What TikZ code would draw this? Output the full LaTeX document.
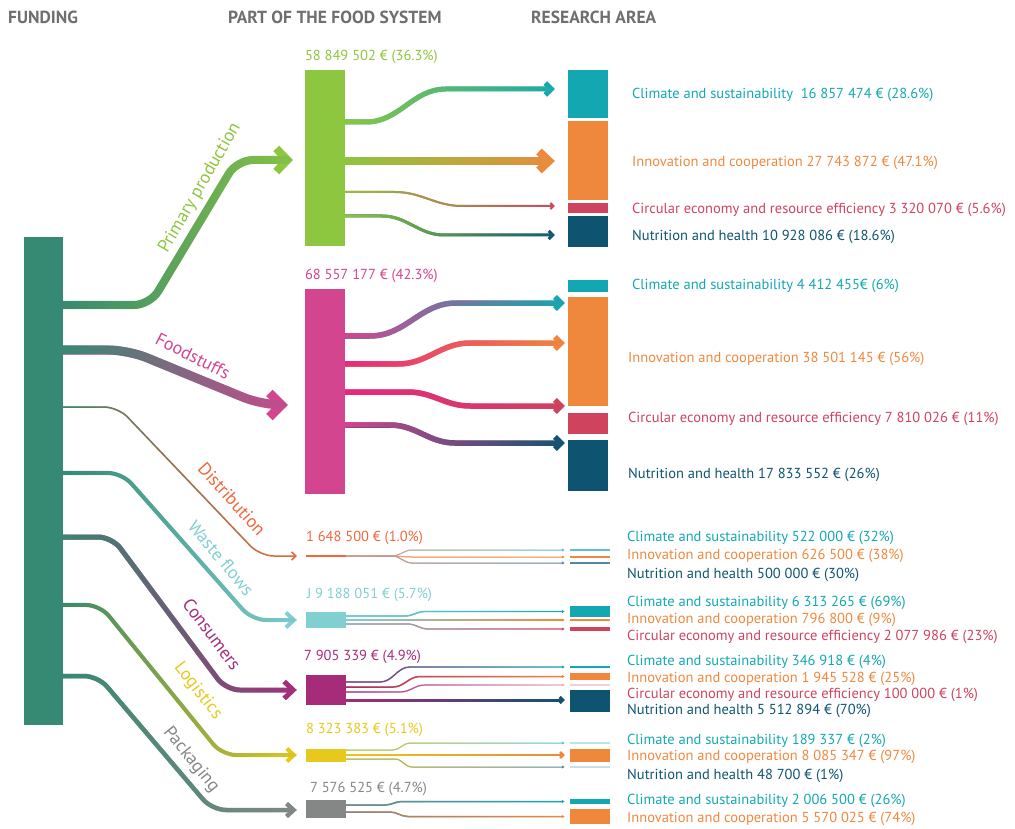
\documentclass[tikz,border=0pt]{standalone}
\usepackage{fontspec}
\setmainfont{PT Sans}
\usetikzlibrary{arrows.meta,positioning,fadings}

\definecolor{funding}{RGB}{54,137,115}
\definecolor{primgreen}{RGB}{141,198,63}
\definecolor{foodpink}{RGB}{212,69,143}
\definecolor{hotpink}{RGB}{232,40,128}
\definecolor{distorange}{RGB}{240,103,58}
\definecolor{wastecyan}{RGB}{128,207,209}
\definecolor{conspurple}{RGB}{166,44,122}
\definecolor{logyellow}{RGB}{230,201,28}
\definecolor{packgrey}{RGB}{132,135,134}
\definecolor{climteal}{RGB}{19,168,177}
\definecolor{innorange}{RGB}{239,136,61}
\definecolor{circred}{RGB}{207,67,95}
\definecolor{nutblue}{RGB}{14,84,112}
\definecolor{headgrey}{RGB}{109,110,113}

\tikzfading[name=flowfade, left color=transparent!0, right color=transparent!100]

\tikzset{
    %Define style for bars
    block/.style={
           rectangle,
           draw=none,
           inner sep=0pt,
           minimum width=40pt},
    % Define styles for texts
    header/.style={
           anchor=west,
           inner sep=0pt,
           text=headgrey,
           font=\fontsize{17.5}{19}\selectfont\bfseries},
    amount/.style={
           inner sep=0pt,
           font=\fontsize{14.5}{16}\selectfont},
    arealbl/.style={
           anchor=west,
           inner sep=0pt,
           font=\fontsize{14.5}{16}\selectfont},
    branchlbl/.style={
           inner sep=0pt,
           font=\fontsize{18}{20}\selectfont},
    % Define arrow styles
    chevron/.style 2 args={
           -{Straight Barb[length=#1,width=#2]}},
    smalltip/.style={
           -{Latex[length=3pt,width=3.5pt]},
           shorten >=5pt},
    sbend/.style={out=0,in=180}
}

% gradient band: width, start colour, end colour, tip, first point, rest of path
\newcommand{\sankeyflow}[6]{%
  \draw[#3,line width=#1,#4] (#5) #6;
  \draw[#2,line width=#1,#4,-,path fading=flowfade] ([yshift=3pt]#5) (#5) #6;}

\begin{document}
\begin{tikzpicture}[x=1pt,y=-1pt]
  \useasboundingbox (0,0) rectangle (1015,829);

  \node[header] (fundhead) at (8,17) {FUNDING};
  \node[header] (parthead) at (228,17) {PART OF THE FOOD SYSTEM};
  \node[header] (areahead) at (531,17) {RESEARCH AREA};

  % funding and parts of the food system
  \node[block, fill=funding, minimum width=39pt, minimum height=488pt] (fund) at (43.5,481) {};
  \node[block, fill=primgreen, minimum height=176pt] (pp) at (325,158) {};
  \node[block, fill=foodpink, minimum height=205pt] (fs) at (325,391.5) {};
  \node[block, fill=distorange, minimum height=2pt] (di) at (326,556) {};
  \node[block, fill=wastecyan, minimum height=16pt] (wf) at (326,620) {};
  \node[block, fill=conspurple, minimum height=30pt] (co) at (326,690) {};
  \node[block, fill=logyellow, minimum height=13pt] (lo) at (326,755) {};
  \node[block, fill=packgrey, minimum height=18pt] (pa) at (326,809) {};

  \node[amount, primgreen, above right=6pt and 0pt of pp.north west] (ppval) {58 849 502 € (36.3\%)};
  \node[amount, foodpink, above right=6pt and 0pt of fs.north west] (fsval) {68 557 177 € (42.3\%)};
  \node[amount, distorange, above right=10pt and 0pt of di.north west] (dival) {1 648 500 € (1.0\%)};
  \node[amount, wastecyan, above right=10pt and 1pt of wf.north west] (wfval) {J 9 188 051 € (5.7\%)};
  \node[amount, conspurple, above right=11pt and -2pt of co.north west] (coval) {7 905 339 € (4.9\%)};
  \node[amount, logyellow, above right=11pt and 0pt of lo.north west] (loval) {8 323 383 € (5.1\%)};
  \node[amount, packgrey, above right=4pt and 4pt of pa.north west] (paval) {7 576 525 € (4.7\%)};

  % research areas
  \node[block, fill=climteal, minimum height=48pt] (ppCl) at (588,94) {};
  \node[block, fill=innorange, minimum height=79pt] (ppIn) at (588,160.5) {};
  \node[block, fill=circred, minimum height=10pt] (ppCi) at (588,208) {};
  \node[block, fill=nutblue, minimum height=31pt] (ppNu) at (588,231.5) {};

  \node[block, fill=climteal, minimum height=12pt] (fsCl) at (588,286) {};
  \node[block, fill=innorange, minimum height=109pt] (fsIn) at (588,351.5) {};
  \node[block, fill=circred, minimum height=21pt] (fsCi) at (588,423.5) {};
  \node[block, fill=nutblue, minimum height=51pt] (fsNu) at (588,465.5) {};

  \node[block, fill=climteal!70, minimum height=1.2pt] (diCl) at (590,550) {};
  \node[block, fill=innorange, minimum height=1.2pt] (diIn) at (590,557) {};
  \node[block, fill=nutblue!70, minimum height=1.2pt] (diNu) at (590,563) {};

  \node[block, fill=climteal, minimum height=11pt] (wfCl) at (590,611.5) {};
  \node[block, fill=innorange, minimum height=2pt] (wfIn) at (590,620) {};
  \node[block, fill=circred, minimum height=4pt] (wfCi) at (590,629) {};

  \node[block, fill=climteal, minimum height=1.5pt] (coCl) at (590,667) {};
  \node[block, fill=innorange, minimum height=7pt] (coIn) at (590,676.5) {};
  \node[block, fill=circred!25, minimum height=1.5pt] (coCi) at (590,685) {};
  \node[block, fill=nutblue, minimum height=22pt] (coNu) at (590,701) {};

  \node[block, fill=climteal!30, minimum height=1.2pt] (loCl) at (590,743) {};
  \node[block, fill=innorange, minimum height=13pt] (loIn) at (590,755) {};
  \node[block, fill=nutblue!20, minimum height=1.2pt] (loNu) at (590,767) {};

  \node[block, fill=climteal, minimum height=5pt] (paCl) at (590,801.5) {};
  \node[block, fill=innorange, minimum height=15pt] (paIn) at (590,816.5) {};

  % funding to the parts of the food system
  \sankeyflow{8pt}{funding}{primgreen}{chevron={11pt}{23pt},shorten >=12pt}
    {fund.east |- 0,305}{[rounded corners=16pt] -- (150,305) -- (237,160) -- (pp.west |- 0,160)};
  \sankeyflow{9pt}{funding}{foodpink}{chevron={12pt}{24pt},shorten >=17pt}
    {fund.east |- 0,350}{[rounded corners=20pt] -- (128,350) -- (262,405) -- (fs.west |- 0,405)};
  \sankeyflow{1.5pt}{funding}{distorange}{chevron={4pt}{8pt},shorten >=9pt}
    {fund.east |- 0,407}{[rounded corners=14pt] -- (118,407) -- (260,556) -- (di.west |- 0,556)};
  \sankeyflow{4pt}{funding}{wastecyan}{chevron={8pt}{15pt},shorten >=9pt}
    {fund.east |- 0,473}{[rounded corners=14pt] -- (122,473) -- (252,620) -- (wf.west |- 0,620)};
  \sankeyflow{5pt}{funding}{conspurple}{chevron={9pt}{17pt},shorten >=9pt}
    {fund.east |- 0,537}{[rounded corners=14pt] -- (112,537) -- (226,690) -- (co.west |- 0,690)};
  \sankeyflow{4pt}{funding}{logyellow}{chevron={7pt}{13pt},shorten >=9pt}
    {fund.east |- 0,605}{[rounded corners=14pt] -- (100,605) -- (222,755) -- (lo.west |- 0,755)};
  \sankeyflow{4.5pt}{funding}{packgrey}{chevron={7pt}{13pt},shorten >=9pt}
    {fund.east |- 0,676}{[rounded corners=14pt] -- (98,676) -- (212,810) -- (pa.west |- 0,810)};

  \node[branchlbl, primgreen, rotate=60] (pplbl) at (200,188) {Primary production};
  \node[branchlbl, foodpink, rotate=-27] (fslbl) at (193,356) {Foodstuffs};
  \node[branchlbl, distorange, rotate=-48] (dilbl) at (232,499) {Distribution};
  \node[branchlbl, wastecyan, rotate=-50] (wflbl) at (221,558) {Waste flows};
  \node[branchlbl, conspurple, rotate=-53] (colbl) at (212,634) {Consumers};
  \node[branchlbl, logyellow, rotate=-52] (lolbl) at (198,691) {Logistics};
  \node[branchlbl, packgrey, rotate=-51] (palbl) at (191,760) {Packaging};

  % primary production to research areas
  \sankeyflow{5pt}{primgreen}{climteal}{chevron={6pt}{12pt},shorten >=13pt}
    {pp.east |- 0,122}{-- (366,122) to[sbend] (446,89) -- (ppCl.west |- 0,89)};
  \sankeyflow{8pt}{primgreen}{innorange}{chevron={10pt}{19pt},shorten >=13pt}
    {pp.east |- 0,161}{-- (ppIn.west |- 0,161)};
  \sankeyflow{2pt}{primgreen}{circred}{chevron={3pt}{6pt},shorten >=13pt}
    {pp.east |- 0,192}{-- (395,192) to[sbend] (462,206) -- (ppCi.west |- 0,206)};
  \sankeyflow{3pt}{primgreen}{nutblue}{chevron={4pt}{8pt},shorten >=13pt}
    {pp.east |- 0,216}{-- (382,216) to[sbend] (444,235) -- (ppNu.west |- 0,235)};

  % foodstuffs to research areas
  \sankeyflow{5.5pt}{foodpink}{climteal}{chevron={6pt}{12pt},shorten >=3pt}
    {fs.east |- 0,336}{-- (370,336) to[sbend] (456,303) -- (fsCl.west |- 0,303)};
  \sankeyflow{5.5pt}{hotpink}{innorange}{chevron={6pt}{12pt},shorten >=3pt}
    {fs.east |- 0,364}{-- (398,364) to[sbend] (470,343) -- (fsIn.west |- 0,343)};
  \sankeyflow{5.5pt}{hotpink}{circred}{chevron={6pt}{12pt},shorten >=3pt}
    {fs.east |- 0,392}{-- (408,392) to[sbend] (470,406) -- (fsIn.west |- 0,406)};
  \sankeyflow{5.5pt}{foodpink}{nutblue}{chevron={6pt}{12pt},shorten >=3pt}
    {fs.east |- 0,425}{-- (390,425) to[sbend] (455,443) -- (fsNu.west |- 0,443)};

  % distribution to research areas
  \sankeyflow{1pt}{distorange!60}{climteal!70}{smalltip}
    {di.east}{-- (392,556) to[sbend] (412,550) -- (diCl.west)};
  \sankeyflow{1pt}{distorange!60}{innorange}{smalltip}
    {di.east}{-- (392,556) to[sbend] (412,557) -- (diIn.west)};
  \sankeyflow{1pt}{distorange!60}{nutblue!70}{smalltip}
    {di.east}{-- (392,556) to[sbend] (412,563) -- (diNu.west)};

  % waste flows to research areas
  \sankeyflow{1.3pt}{wastecyan}{climteal}{smalltip}
    {wf.east |- 0,616}{-- (405,616) to[sbend] (425,611.5) -- (wfCl.west)};
  \sankeyflow{1.3pt}{wastecyan}{innorange}{smalltip}
    {wf.east}{-- (wfIn.west)};
  \sankeyflow{1.3pt}{wastecyan}{circred}{smalltip}
    {wf.east |- 0,624}{-- (408,624) to[sbend] (428,629) -- (wfCi.west)};

  % consumers to research areas
  \sankeyflow{1.3pt}{conspurple}{climteal}{smalltip}
    {co.east |- 0,682}{-- (380,682) to[sbend] (410,667) -- (coCl.west)};
  \sankeyflow{1.5pt}{conspurple}{innorange}{smalltip}
    {co.east |- 0,687}{-- (393,687) to[sbend] (420,676.5) -- (coIn.west)};
  \sankeyflow{1.2pt}{conspurple}{circred!40}{smalltip}
    {co.east |- 0,692}{-- (400,692) to[sbend] (425,685) -- (coCi.west)};
  \sankeyflow{3pt}{conspurple}{nutblue}{-{Straight Barb[length=3pt,width=6pt]},shorten >=5pt}
    {co.east |- 0,700}{-- (coNu.west |- 0,700)};

  % logistics to research areas
  \sankeyflow{1pt}{logyellow}{climteal!70}{smalltip}
    {lo.east |- 0,750}{-- (393,750) to[sbend] (410,743) -- (loCl.west)};
  \sankeyflow{2.5pt}{logyellow}{innorange}{-{Straight Barb[length=3pt,width=6pt]},shorten >=5pt}
    {lo.east}{-- (loIn.west)};
  \sankeyflow{1pt}{logyellow}{nutblue!70}{smalltip}
    {lo.east |- 0,759}{-- (395,759) to[sbend] (412,767) -- (loNu.west)};

  % packaging to research areas
  \sankeyflow{1.5pt}{packgrey}{climteal}{smalltip}
    {pa.east |- 0,805}{-- (385,805) to[sbend] (402,801.5) -- (paCl.west)};
  \sankeyflow{1.5pt}{packgrey}{innorange}{smalltip}
    {pa.east |- 0,812}{-- (390,812) to[sbend] (408,816.5) -- (paIn.west)};

  % research area labels
  \node[arealbl, climteal] (ppClT) at (632,95) {Climate and sustainability\ \ 16 857 474 € (28.6\%)};
  \node[arealbl, innorange] (ppInT) at (632,163) {Innovation and cooperation 27 743 872 € (47.1\%)};
  \node[arealbl, circred] (ppCiT) at (632,210) {Circular economy and resource efficiency 3 320 070 € (5.6\%)};
  \node[arealbl, nutblue] (ppNuT) at (632,237) {Nutrition and health 10 928 086 € (18.6\%)};

  \node[arealbl, climteal] (fsClT) at (632,286) {Climate and sustainability 4 412 455€ (6\%)};
  \node[arealbl, innorange] (fsInT) at (628,359) {Innovation and cooperation 38 501 145 € (56\%)};
  \node[arealbl, circred] (fsCiT) at (628,419) {Circular economy and resource efficiency 7 810 026 € (11\%)};
  \node[arealbl, nutblue] (fsNuT) at (628,475) {Nutrition and health 17 833 552 € (26\%)};

  \node[arealbl, climteal] (diClT) at (627,538) {Climate and sustainability 522 000 € (32\%)};
  \node[arealbl, innorange] (diInT) at (627,556) {Innovation and cooperation 626 500 € (38\%)};
  \node[arealbl, nutblue] (diNuT) at (627,575) {Nutrition and health 500 000 € (30\%)};

  \node[arealbl, climteal] (wfClT) at (627,603) {Climate and sustainability 6 313 265 € (69\%)};
  \node[arealbl, innorange] (wfInT) at (627,620) {Innovation and cooperation 796 800 € (9\%)};
  \node[arealbl, circred] (wfCiT) at (627,637) {Circular economy and resource efficiency 2 077 986 € (23\%)};

  \node[arealbl, climteal] (coClT) at (627,662) {Climate and sustainability 346 918 € (4\%)};
  \node[arealbl, innorange] (coInT) at (627,679) {Innovation and cooperation 1 945 528 € (25\%)};
  \node[arealbl, circred] (coCiT) at (627,695) {Circular economy and resource efficiency 100 000 € (1\%)};
  \node[arealbl, nutblue] (coNuT) at (627,711) {Nutrition and health 5 512 894 € (70\%)};

  \node[arealbl, climteal] (loClT) at (627,741) {Climate and sustainability 189 337 € (2\%)};
  \node[arealbl, innorange] (loInT) at (627,757) {Innovation and cooperation 8 085 347 € (97\%)};
  \node[arealbl, nutblue] (loNuT) at (627,776) {Nutrition and health 48 700 € (1\%)};

  \node[arealbl, climteal] (paClT) at (627,801) {Climate and sustainability 2 006 500 € (26\%)};
  \node[arealbl, innorange] (paInT) at (627,819) {Innovation and cooperation 5 570 025 € (74\%)};
\end{tikzpicture}
\end{document}
